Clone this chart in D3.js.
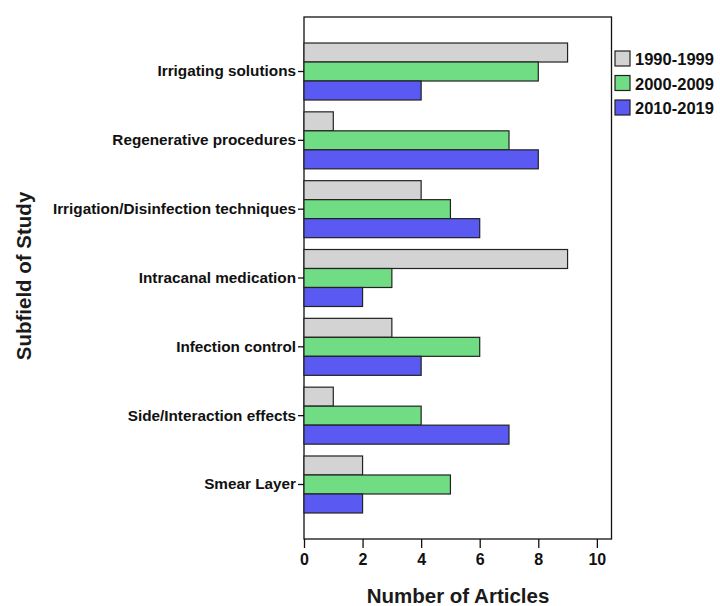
<!DOCTYPE html>
<html>
<head>
<meta charset="utf-8">
<script src="https://cdn.jsdelivr.net/npm/d3@7"></script>
<style>
  body { margin: 0; background: #fff; }
  text { font-family: "Liberation Sans", Arial, sans-serif; }
</style>
</head>
<body>
<svg id="chart" width="720" height="606"></svg>
<script>
const categories = ["Irrigating solutions", "Regenerative procedures", "Irrigation/Disinfection techniques", "Intracanal medication", "Infection control", "Side/Interaction effects", "Smear Layer"];
const seriesNames = ["1990-1999", "2000-2009", "2010-2019"];
const values1990 = [9, 1, 4, 9, 3, 1, 2];
const values2000 = [8, 7, 5, 3, 6, 4, 5];
const values2010 = [4, 8, 6, 2, 4, 7, 2];
const xTicks = [0, 2, 4, 6, 8, 10];
const colors = ["#d3d3d3", "#70dc84", "#5a5af2"];

(function () {
const seriesValues = [values1990, values2000, values2010];
const svg = d3.select("#chart");
const pLeft = 304, pRight = 611.5, pTop = 17, pBottom = 539;

const x = d3.scaleLinear().domain([0, 10.5]).range([pLeft, pRight]);
const y = d3.scaleBand().domain(categories).range([pTop, pBottom]).paddingInner(0.172).paddingOuter(0.378);
const ys = d3.scaleBand().domain(seriesNames).range([0, y.bandwidth()]);

// frame
svg.append("rect").attr("x", pLeft).attr("y", pTop).attr("width", pRight - pLeft).attr("height", pBottom - pTop)
  .attr("fill", "none").attr("stroke", "#111").attr("stroke-width", 1.3);

// bars
categories.forEach((c, i) => {
  const g = svg.append("g").attr("transform", `translate(0,${y(c)})`);
  seriesNames.forEach((s, j) => {
    g.append("rect")
      .attr("x", x(0))
      .attr("y", ys(s))
      .attr("width", x(seriesValues[j][i]) - x(0))
      .attr("height", ys.bandwidth())
      .attr("fill", colors[j])
      .attr("stroke", "#222")
      .attr("stroke-width", 1.2);
  });
});

// x axis
const xAxis = svg.append("g").attr("transform", `translate(0,${pBottom})`)
  .call(d3.axisBottom(x).tickValues(xTicks).tickSize(9).tickPadding(6).tickFormat(d3.format("d")));
xAxis.select(".domain").remove();
xAxis.selectAll("line").attr("stroke", "#111").attr("stroke-width", 1.3);
xAxis.selectAll("text").attr("font-size", 16).attr("font-weight", "bold").attr("fill", "#111")
  .attr("font-family", "Liberation Sans, Arial, sans-serif");

// y axis
const yAxis = svg.append("g").attr("transform", `translate(${pLeft},0)`)
  .call(d3.axisLeft(y).tickSize(6).tickPadding(2));
yAxis.select(".domain").remove();
yAxis.selectAll("line").attr("stroke", "#111").attr("stroke-width", 1.3);
yAxis.selectAll("text").attr("font-size", 15.3).attr("font-weight", "bold").attr("fill", "#111")
  .attr("font-family", "Liberation Sans, Arial, sans-serif");

// axis titles
svg.append("text").attr("x", 458).attr("y", 603).attr("text-anchor", "middle")
  .attr("font-size", 20.5).attr("font-weight", "bold").attr("fill", "#1a1a1a").text("Number of Articles");
svg.append("text").attr("transform", "translate(31,276) rotate(-90)").attr("text-anchor", "middle")
  .attr("font-size", 20.5).attr("font-weight", "bold").attr("fill", "#1a1a1a").text("Subfield of Study");

// legend
const legend = svg.append("g").attr("transform", "translate(615,51)");
seriesNames.forEach((s, j) => {
  const row = legend.append("g").attr("transform", `translate(0,${j * 24.5})`);
  row.append("rect").attr("width", 15).attr("height", 15).attr("fill", colors[j])
    .attr("stroke", "#222").attr("stroke-width", 1.2);
  row.append("text").attr("x", 20).attr("y", 14).attr("font-size", 16.5).attr("font-weight", "bold")
    .attr("fill", "#111").text(s);
});
})();
</script>
</body>
</html>
